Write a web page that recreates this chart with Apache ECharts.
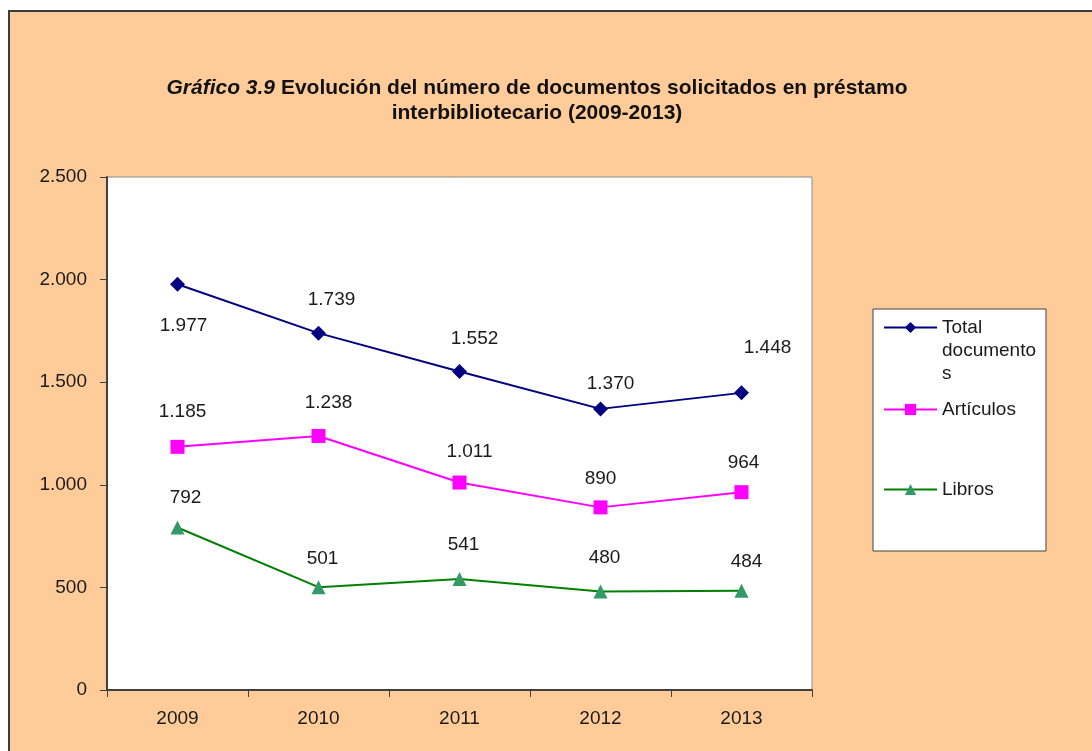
<!DOCTYPE html>
<html>
<head>
<meta charset="utf-8">
<script src="https://cdn.jsdelivr.net/npm/echarts@6/dist/echarts.min.js"></script>
<style>
  html, body { margin: 0; padding: 0; background: #fff; }
  #frame {
    position: absolute; left: 8px; top: 10px; width: 1084px; height: 741px;
    background: #FFCC99; border-left: 2px solid #3c3c3c; border-top: 2px solid #3c3c3c;
  }
  #chart { position: absolute; left: 0; top: 0; width: 1092px; height: 751px; }
</style>
</head>
<body>
<div id="frame"></div>
<div id="chart"></div>
<script>
// datos del gráfico
var years = ['2009', '2010', '2011', '2012', '2013'];
var totalDocs = [1977, 1739, 1552, 1370, 1448];
var articulos = [1185, 1238, 1011, 890, 964];
var libros = [792, 501, 541, 480, 484];
var seriesNames = ['Total documentos', 'Artículos', 'Libros'];

// desplazamiento de cada etiqueta respecto al punto (movidas a mano en el original)
var offTotal = [[6, 41], [13, -33], [15, -33], [10, -25], [26, -45]];
var offArticulos = [[5, -35], [10, -33], [10, -31], [0, -29], [2, -29]];
var offLibros = [[8, -30], [4, -28], [4, -34], [4, -34], [5, -29]];

// separador de miles con punto
function miles(v) {
    return String(v).replace(/\B(?=(\d{3})+(?!\d))/g, '.');
}

var font = 'Liberation Sans, Arial, sans-serif';
var myChart = echarts.init(document.getElementById('chart'));

function withLabels(values, offsets) {
    return values.map(function (v, i) {
        return { value: v, label: { offset: offsets[i] } };
    });
}

var labelStyle = {
    show: true,
    position: 'inside',
    fontFamily: font,
    fontSize: 19,
    color: '#1a1a1a',
    formatter: function (p) { return miles(p.value); }
};

function legendAt(name, top, extra) {
    return Object.assign({
        data: [name],
        left: 883,
        top: top,
        itemWidth: 53,
        itemHeight: 14,
        padding: 0,
        textStyle: { fontFamily: font, fontSize: 19, color: '#1a1a1a', lineHeight: 23 }
    }, extra || {});
}

var option = {
    backgroundColor: 'transparent',
    animation: false,
    title: {
        text: '{i|Gráfico 3.9} Evolución del número de documentos solicitados en préstamo\ninterbibliotecario (2009-2013)',
        left: 537,
        top: 76,
        padding: 0,
        textAlign: 'center',
        textStyle: {
            fontFamily: font,
            fontSize: 21,
            fontWeight: 'bold',
            color: '#111',
            lineHeight: 25,
            rich: {
                i: { fontFamily: font, fontSize: 21, fontStyle: 'italic', fontWeight: 'bold', color: '#111', lineHeight: 25 }
            }
        }
    },
    graphic: [{
        type: 'rect',
        shape: { x: 873, y: 309, width: 173, height: 242 },
        style: { fill: '#fff', stroke: '#404040', lineWidth: 1 },
        z: 1
    }],
    legend: [
        legendAt(seriesNames[0], 270, {
            // el texto se parte en tres líneas, con el icono a la altura de la primera
            formatter: function () { return '\n\nTotal\ndocumento\ns'; }
        }),
        legendAt(seriesNames[1], 398),
        legendAt(seriesNames[2], 478)
    ],
    grid: {
        show: true,
        left: 107,
        top: 177,
        width: 705,
        height: 513,
        backgroundColor: '#fff',
        borderColor: '#8a8a8a',
        borderWidth: 1
    },
    xAxis: {
        type: 'category',
        data: years,
        boundaryGap: true,
        axisLine: { lineStyle: { color: '#404040', width: 2 } },
        axisTick: { show: true, alignWithLabel: false, length: 7, lineStyle: { color: '#404040' } },
        axisLabel: { margin: 19, fontFamily: font, fontSize: 19, color: '#1a1a1a' }
    },
    yAxis: {
        type: 'value',
        min: 0,
        max: 2500,
        interval: 500,
        axisLine: { show: true, lineStyle: { color: '#404040', width: 2 } },
        axisTick: { show: true, length: 7, lineStyle: { color: '#404040' } },
        splitLine: { show: false },
        axisLabel: { margin: 20, fontFamily: font, fontSize: 19, color: '#1a1a1a', formatter: miles }
    },
    series: [{
        name: seriesNames[0],
        type: 'line',
        data: withLabels(totalDocs, offTotal),
        symbol: 'diamond',
        symbolSize: 15,
        itemStyle: { color: '#000080' },
        lineStyle: { color: '#000080', width: 2 },
        label: labelStyle
    },
    {
        name: seriesNames[1],
        type: 'line',
        data: withLabels(articulos, offArticulos),
        symbol: 'rect',
        symbolSize: 14,
        itemStyle: { color: '#FF00FF' },
        lineStyle: { color: '#FF00FF', width: 2 },
        label: labelStyle
    },
    {
        name: seriesNames[2],
        type: 'line',
        data: withLabels(libros, offLibros),
        symbol: 'triangle',
        symbolSize: 14,
        itemStyle: { color: '#339966' },
        lineStyle: { color: '#008000', width: 2 },
        label: labelStyle
    }]
};

myChart.setOption(option);
</script>
</body>
</html>
